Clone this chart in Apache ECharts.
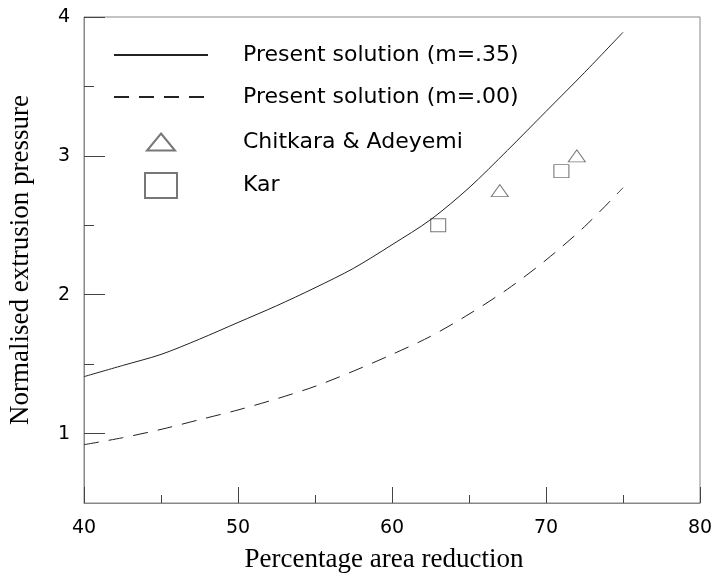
<!DOCTYPE html>
<html>
<head>
<meta charset="utf-8">
<script src="https://cdn.jsdelivr.net/npm/echarts@6/dist/echarts.min.js"></script>
<style>html,body{margin:0;padding:0;background:#fff}#c{width:715px;height:573px}</style>
</head>
<body>
<div id="c"></div>
<script>
const reduction = [40, 42.5, 45, 47.5, 50, 52.5, 55, 57.5, 60, 62.5, 65, 67.5, 70, 72.5, 75];
const pressureM35 = [1.41, 1.49, 1.57, 1.68, 1.80, 1.92, 2.05, 2.19, 2.36, 2.54, 2.77, 3.04, 3.32, 3.60, 3.89];
const pressureM00 = [0.92, 0.97, 1.03, 1.10, 1.17, 1.25, 1.34, 1.45, 1.57, 1.70, 1.86, 2.04, 2.25, 2.49, 2.77];
const chitkaraX = [67, 72];
const chitkaraY = [2.75, 3.0];
const karX = [63, 71];
const karY = [2.50, 2.89];
const xMajorTicks = [40, 50, 60, 70, 80];
const xMinorTicks = [45, 55, 65, 75];
const yMajorTicks = [1, 2, 3, 4];
const yMinorTicks = [1.5, 2.5, 3.5];
const seriesNames = ['Present solution (m=.35)', 'Present solution (m=.00)', 'Chitkara & Adeyemi', 'Kar'];

const zip = (a, b) => a.map((v, i) => [v, b[i]]);
const sans = 'DejaVu Sans';
const serif = 'Liberation Serif';
const tickColor = '#444';

const chart = echarts.init(document.getElementById('c'), null, {renderer: 'canvas'});
chart.setOption({
  animation: false,
  backgroundColor: '#fff',
  grid: {left: 84, right: 15, top: 17, bottom: 70, outerBoundsMode: 'none', containLabel: false,
         show: true, borderColor: '#888', borderWidth: 1, backgroundColor: 'transparent'},
  legend: [
    {
      data: [seriesNames[0], seriesNames[1]],
      orient: 'vertical', left: 108, top: 39, itemWidth: 94, itemHeight: 14, itemGap: 20,
      itemStyle: {opacity: 0},
      textStyle: {fontFamily: sans, fontSize: 22, color: '#000', padding: [0, 0, 0, 30]},
      selectedMode: false
    },
    {
      data: [seriesNames[2]],
      orient: 'vertical', left: 141, top: 126, itemWidth: 28, itemHeight: 17,
      textStyle: {fontFamily: sans, fontSize: 22, color: '#000', padding: [0, 0, 0, 63]},
      selectedMode: false
    },
    {
      data: [seriesNames[3]],
      orient: 'vertical', left: 139, top: 167, itemWidth: 32, itemHeight: 25,
      textStyle: {fontFamily: sans, fontSize: 22, color: '#000', padding: [0, 0, 0, 61]},
      selectedMode: false
    }
  ],
  xAxis: [
    {
      type: 'value', min: 40, max: 80, position: 'bottom',
      name: 'Percentage area reduction', nameLocation: 'middle', nameGap: 43,
      nameTextStyle: {fontFamily: serif, fontSize: 27, color: '#000', padding: [0, 16, 0, 0]},
      axisLine: {show: true, onZero: false, lineStyle: {color: '#888', width: 1}},
      axisTick: {show: true, inside: true, length: 16, customValues: xMajorTicks, lineStyle: {color: tickColor}},
      axisLabel: {fontFamily: sans, fontSize: 19, color: '#000', margin: 16, customValues: xMajorTicks},
      splitLine: {show: false}
    },
    {
      type: 'value', min: 40, max: 80, position: 'bottom',
      axisLine: {show: false, onZero: false},
      axisTick: {show: true, inside: true, length: 8, customValues: xMinorTicks, lineStyle: {color: tickColor}},
      axisLabel: {show: false},
      splitLine: {show: false}
    }
  ],
  yAxis: [
    {
      type: 'value', min: 0.5, max: 4, position: 'left',
      name: 'Normalised extrusion pressure', nameLocation: 'middle', nameGap: 50,
      nameTextStyle: {fontFamily: serif, fontSize: 27, color: '#000'},
      axisLine: {show: true, onZero: false, lineStyle: {color: '#888', width: 1}},
      axisTick: {show: true, inside: true, length: 21, customValues: yMajorTicks, lineStyle: {color: tickColor}},
      axisLabel: {fontFamily: sans, fontSize: 19, color: '#000', margin: 14, customValues: yMajorTicks},
      splitLine: {show: false}
    },
    {
      type: 'value', min: 0.5, max: 4, position: 'left',
      axisLine: {show: false, onZero: false},
      axisTick: {show: true, inside: true, length: 10, customValues: yMinorTicks, lineStyle: {color: tickColor}},
      axisLabel: {show: false},
      splitLine: {show: false}
    }
  ],
  series: [
    {
      name: seriesNames[0], type: 'line', data: zip(reduction, pressureM35), smooth: 0.3,
      symbol: 'none', lineStyle: {color: '#222', width: 1}, itemStyle: {color: '#222'}
    },
    {
      name: seriesNames[1], type: 'line', data: zip(reduction, pressureM00), smooth: 0.3,
      symbol: 'none', lineStyle: {color: '#222', width: 1, type: [15, 10]}, itemStyle: {color: '#222'}
    },
    {
      name: seriesNames[2], type: 'scatter', data: zip(chitkaraX, chitkaraY),
      symbol: 'triangle', symbolSize: [17, 12],
      itemStyle: {color: '#fff', borderColor: '#555', borderWidth: 1}
    },
    {
      name: seriesNames[3], type: 'scatter', data: zip(karX, karY),
      symbol: 'rect', symbolSize: [15, 13],
      itemStyle: {color: '#fff', borderColor: '#555', borderWidth: 1}
    }
  ]
});
</script>
</body>
</html>
